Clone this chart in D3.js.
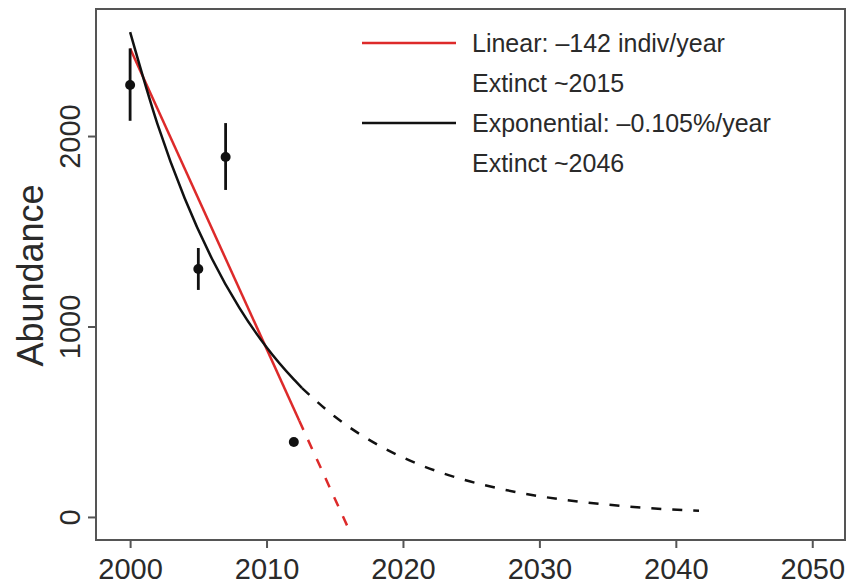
<!DOCTYPE html>
<html>
<head>
<meta charset="utf-8">
<script src="https://cdn.jsdelivr.net/npm/d3@7"></script>
<style>
  html, body { margin: 0; padding: 0; background: #fff; }
  svg { display: block; }
  text { font-family: "Liberation Sans", Arial, Helvetica, sans-serif; fill: #2a2a2a; }
</style>
</head>
<body>
<svg id="chart" width="848" height="585"></svg>
<script>
// ---- data ----
const obsYears = [2000, 2005, 2007, 2012];
const obsValues = [2268, 1302, 1890, 394];
const obsLow = [2080, 1192, 1717, 394];
const obsHigh = [2460, 1412, 2068, 394];

// linear fit (solid over data range, dashed projection)
const linSolidYears = [2000, 2012.4];
const linSolidValues = [2460, 505];
const linDashYears = [2012.4, 2016];
const linDashValues = [505, -60];

// exponential fit
const expSolidYears = [2000, 2002, 2004, 2006, 2008, 2010, 2012, 2012.6];
const expSolidValues = [2546, 2064, 1673, 1356, 1099, 891, 722, 677];
const expDashYears = [2012.6, 2015, 2018, 2021, 2024, 2027, 2030, 2033, 2036, 2039, 2041.7];
const expDashValues = [677, 527, 385, 281, 205, 150, 109, 80, 58, 42, 32];

const xTicks = [2000, 2010, 2020, 2030, 2040, 2050];
const yTicks = [0, 1000, 2000];

const legendLabels = ["Linear: \u2013142 indiv/year", "Extinct ~2015", "Exponential: \u20130.105%/year", "Extinct ~2046"];
const legendColors = ["#dd2a2a", null, "#111", null];

// ---- layout ----
const pLeft = 96, pRight = 845, pTop = 9, pBottom = 540;
const x = d3.scaleLinear().domain([1997.5, 2052.4]).range([pLeft, pRight]);
const y = d3.scaleLinear().domain([-121, 2667]).range([pBottom, pTop]);

const svg = d3.select("#chart");
const frameColor = "#555";

svg.append("clipPath").attr("id", "clip")
  .append("rect").attr("x", pLeft).attr("y", pTop).attr("width", pRight - pLeft).attr("height", pBottom - pTop);
const plot = svg.append("g").attr("clip-path", "url(#clip)");

const line = d3.line().x(d => x(d[0])).y(d => y(d[1]));
const zip = (a, b) => a.map((v, i) => [v, b[i]]);

const red = "#dd2a2a";
plot.append("path").datum(zip(linSolidYears, linSolidValues))
  .attr("d", line).attr("fill", "none").attr("stroke", red).attr("stroke-width", 2.5);
plot.append("path").datum(zip(linDashYears, linDashValues))
  .attr("d", line).attr("fill", "none").attr("stroke", red).attr("stroke-width", 2.5)
  .attr("stroke-dasharray", "10,11");

const lineCurve = d3.line().x(d => x(d[0])).y(d => y(d[1])).curve(d3.curveMonotoneX);
plot.append("path").datum(zip(expSolidYears, expSolidValues))
  .attr("d", lineCurve).attr("fill", "none").attr("stroke", "#111").attr("stroke-width", 2.5);
plot.append("path").datum(zip(expDashYears, expDashValues))
  .attr("d", lineCurve).attr("fill", "none").attr("stroke", "#111").attr("stroke-width", 2.5)
  .attr("stroke-dasharray", "10,11");

// error bars and points
obsYears.forEach((yr, i) => {
  plot.append("line")
    .attr("x1", x(yr)).attr("x2", x(yr))
    .attr("y1", y(obsLow[i])).attr("y2", y(obsHigh[i]))
    .attr("stroke", "#111").attr("stroke-width", 2.8);
  plot.append("circle")
    .attr("cx", x(yr)).attr("cy", y(obsValues[i])).attr("r", 5).attr("fill", "#111");
});

// frame
svg.append("rect").attr("x", pLeft).attr("y", pTop).attr("width", pRight - pLeft).attr("height", pBottom - pTop)
  .attr("fill", "none").attr("stroke", frameColor).attr("stroke-width", 2);

// x axis
const xAxis = d3.axisBottom(x).tickValues(xTicks).tickSize(8).tickPadding(10).tickFormat(d3.format("d"));
const gx = svg.append("g").attr("transform", `translate(0,${pBottom})`).call(xAxis);
gx.select(".domain").remove();
gx.selectAll(".tick line").attr("stroke", frameColor).attr("stroke-width", 2);
gx.selectAll(".tick text").attr("font-size", 29).attr("fill", "#2a2a2a")
  .attr("font-family", "'Liberation Sans', Arial, sans-serif");

// y axis
const yAxis = d3.axisLeft(y).tickValues(yTicks).tickSize(8).tickFormat(d3.format("d"));
const gy = svg.append("g").attr("transform", `translate(${pLeft},0)`).call(yAxis);
gy.select(".domain").remove();
gy.selectAll(".tick line").attr("stroke", frameColor).attr("stroke-width", 2);
gy.selectAll(".tick text")
  .attr("font-size", 29).attr("fill", "#2a2a2a")
  .attr("font-family", "'Liberation Sans', Arial, sans-serif")
  .attr("x", null).attr("dy", null)
  .attr("text-anchor", "middle")
  .attr("transform", "translate(-16,0) rotate(-90)");

// y axis title
svg.append("text")
  .attr("transform", `translate(43,${(pTop + pBottom) / 2 + 1}) rotate(-90)`)
  .attr("text-anchor", "middle")
  .attr("font-size", 36)
  .text("Abundance");

// legend
const legY0 = 43, legStep = 40;
legendLabels.forEach((lab, i) => {
  const yy = legY0 + i * legStep;
  if (legendColors[i]) {
    svg.append("line").attr("x1", 362).attr("x2", 456).attr("y1", yy).attr("y2", yy)
      .attr("stroke", legendColors[i]).attr("stroke-width", 2.5);
  }
  svg.append("text").attr("x", 472).attr("y", yy).attr("dy", "0.35em")
    .attr("font-size", 25).text(lab);
});
</script>
</body>
</html>
